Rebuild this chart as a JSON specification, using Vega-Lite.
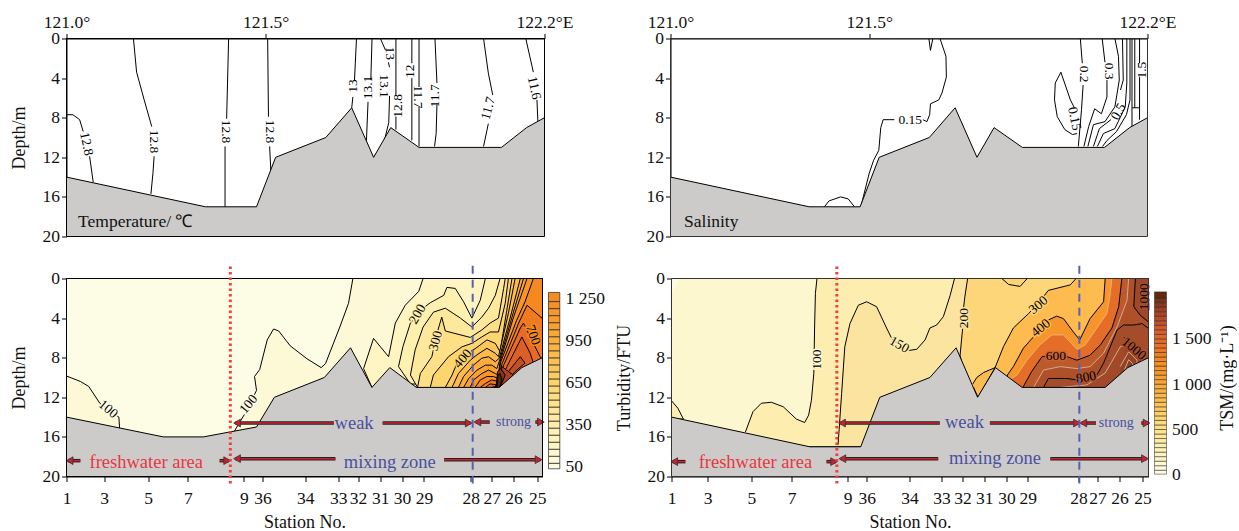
{"$schema":"https://vega.github.io/schema/vega-lite/v6.json","padding":{"left":9.5,"top":13.5,"right":0,"bottom":0},"autosize":{"type":"pad"},"background":"white",
"config":{"font":"Liberation Serif","view":{"stroke":null},"axis":{"grid":false,"domainColor":"#000","tickColor":"#000","labelColor":"#111","titleColor":"#111","labelFontSize":17.5,"titleFontSize":18,"titleFontWeight":"normal","labelOverlap":false,"labelFlush":false,"labelBound":false,"tickSize":5,"zindex":1}},
"datasets":{
"frame":[{"x":121,"y":0},{"x":122.2,"y":0},{"x":122.2,"y":20},{"x":121,"y":20},{"x":121,"y":0}],
"terrainTop":[{"x":121,"y":14},{"x":121.349,"y":17},{"x":121.477,"y":17},{"x":121.525,"y":12},{"x":121.651,"y":10},{"x":121.716,"y":7},{"x":121.771,"y":12},{"x":121.814,"y":9},{"x":121.885,"y":11},{"x":122.092,"y":11},{"x":122.155,"y":9},{"x":122.2,"y":8}],
"terrainBL":[{"x":121,"y":14},{"x":121.244,"y":16},{"x":121.345,"y":16},{"x":121.479,"y":15},{"x":121.524,"y":12},{"x":121.65,"y":10},{"x":121.716,"y":7},{"x":121.77,"y":11},{"x":121.815,"y":9},{"x":121.882,"y":11},{"x":122.091,"y":11},{"x":122.148,"y":9},{"x":122.2,"y":8}],
"terrainBR":[{"x":121,"y":14},{"x":121.348,"y":17},{"x":121.476,"y":17},{"x":121.524,"y":12},{"x":121.65,"y":10},{"x":121.716,"y":7},{"x":121.77,"y":12},{"x":121.815,"y":9},{"x":121.882,"y":11},{"x":122.091,"y":11},{"x":122.148,"y":9},{"x":122.2,"y":8}],
"tempLines":[
{"c":"a1","x":121,"y":7.7},{"c":"a1","x":121.016,"y":7.7},{"c":"a1","x":121.033,"y":8.2},{"c":"a1","x":121.042,"y":9.4},
{"c":"a2","x":121.058,"y":11.9},{"c":"a2","x":121.067,"y":14.5},
{"c":"b1","x":121.168,"y":0},{"c":"b1","x":121.176,"y":3.4},{"c":"b1","x":121.195,"y":6.2},{"c":"b1","x":121.214,"y":8.9},
{"c":"b2","x":121.22,"y":11.9},{"c":"b2","x":121.217,"y":13.6},{"c":"b2","x":121.212,"y":15.7},
{"c":"c1","x":121.407,"y":0},{"c":"c1","x":121.402,"y":8.1},{"c":"c2","x":121.398,"y":10.9},{"c":"c2","x":121.398,"y":17},
{"c":"d1","x":121.505,"y":0},{"c":"d1","x":121.507,"y":7.9},{"c":"d2","x":121.51,"y":10.9},{"c":"d2","x":121.513,"y":13.4},
{"c":"e1","x":121.728,"y":0},{"c":"e1","x":121.723,"y":4.2},{"c":"e2","x":121.719,"y":5.9},{"c":"e2","x":121.716,"y":7},
{"c":"f1","x":121.767,"y":0},{"c":"f1","x":121.764,"y":4.2},{"c":"f2","x":121.757,"y":6.4},{"c":"f2","x":121.753,"y":10.3},
{"c":"g1","x":121.788,"y":0},{"c":"g1","x":121.801,"y":1.2},{"c":"g2","x":121.808,"y":2.4},{"c":"g2","x":121.811,"y":2.9},
{"c":"g3","x":121.811,"y":5.8},{"c":"g3","x":121.809,"y":8.5},{"c":"g3","x":121.798,"y":10.3},{"c":"g3","x":121.784,"y":11.4},{"c":"g3","x":121.771,"y":12},
{"c":"h1","x":121.827,"y":0},{"c":"h1","x":121.827,"y":5.7},{"c":"h2","x":121.827,"y":7.9},{"c":"h2","x":121.827,"y":9.2},
{"c":"i1","x":121.867,"y":0},{"c":"i1","x":121.867,"y":2.5},{"c":"i2","x":121.867,"y":4},{"c":"i2","x":121.867,"y":10.3},
{"c":"j1","x":121.885,"y":0},{"c":"j1","x":121.885,"y":4.9},{"c":"j2","x":121.885,"y":6.9},{"c":"j2","x":121.885,"y":10.9},
{"c":"k1","x":121.925,"y":0},{"c":"k1","x":121.93,"y":4.5},{"c":"k2","x":121.93,"y":6.7},{"c":"k2","x":121.928,"y":9.6},{"c":"k2","x":121.924,"y":10.9},
{"c":"l1","x":122.047,"y":0},{"c":"l1","x":122.059,"y":3.5},{"c":"l1","x":122.07,"y":5.7},{"c":"l2","x":122.059,"y":8.6},{"c":"l2","x":122.047,"y":10.9},
{"c":"m1","x":122.153,"y":0},{"c":"m1","x":122.172,"y":3.4},{"c":"m2","x":122.181,"y":6.2},{"c":"m2","x":122.184,"y":8.9}],
"tempLabels":[{"t":"12.8","x":121.05,"y":10.65,"r":"d78"},{"t":"12.8","x":121.219,"y":10.4,"r":"d90"},{"t":"12.8","x":121.4,"y":9.4,"r":"d90"},{"t":"12.8","x":121.51,"y":9.4,"r":"d90"},{"t":"13","x":121.719,"y":4.8,"r":"u90"},{"t":"13.1","x":121.758,"y":4.95,"r":"u90"},{"t":"13","x":121.813,"y":1.5,"r":"d90"},{"t":"13.1","x":121.796,"y":4.8,"r":"d90"},{"t":"12.8","x":121.832,"y":6.8,"r":"u90"},{"t":"12","x":121.863,"y":3.3,"r":"u90"},{"t":"11.7","x":121.882,"y":5.9,"r":"d90"},{"t":"11.7","x":121.926,"y":5.8,"r":"u90"},{"t":"11.7","x":122.059,"y":7.05,"r":"u75"},{"t":"11.6","x":122.174,"y":5,"r":"d78"}],
"salLines":[
{"c":"a1","x":121.678,"y":0},{"c":"a1","x":121.693,"y":1.8},{"c":"a1","x":121.694,"y":3.9},{"c":"a1","x":121.683,"y":5.5},{"c":"a1","x":121.675,"y":6.2},{"c":"a1","x":121.654,"y":6.6},{"c":"a1","x":121.652,"y":7.7},{"c":"a1","x":121.645,"y":8.4},{"c":"a1","x":121.635,"y":8.2},
{"c":"a2","x":121.563,"y":8.2},{"c":"a2","x":121.535,"y":8.2},{"c":"a2","x":121.529,"y":9},{"c":"a2","x":121.524,"y":11.3},{"c":"a2","x":121.511,"y":12.3},{"c":"a2","x":121.5,"y":13.6},{"c":"a2","x":121.485,"y":16},{"c":"a2","x":121.479,"y":17},
{"c":"w","x":121.65,"y":0},{"c":"w","x":121.654,"y":1.2},{"c":"w","x":121.66,"y":0},
{"c":"dome","x":121.387,"y":17},{"c":"dome","x":121.399,"y":16.4},{"c":"dome","x":121.428,"y":16},{"c":"dome","x":121.447,"y":16.2},{"c":"dome","x":121.463,"y":17},
{"c":"loop","x":121.982,"y":3.4},{"c":"loop","x":121.968,"y":4.5},{"c":"loop","x":121.966,"y":6.2},{"c":"loop","x":121.973,"y":7.9},{"c":"loop","x":121.992,"y":9.2},{"c":"loop","x":122.011,"y":9.7},{"c":"loop","x":122.023,"y":9.6},
{"c":"loop2","x":122.016,"y":7},{"c":"loop2","x":122.006,"y":6.2},{"c":"loop2","x":121.982,"y":3.4},
{"c":"s2a","x":122.031,"y":0},{"c":"s2a","x":122.036,"y":2.5},{"c":"s2b","x":122.038,"y":4.7},{"c":"s2b","x":122.034,"y":7.2},{"c":"s2b","x":122.026,"y":10.9},
{"c":"s3a","x":122.086,"y":0},{"c":"s3a","x":122.093,"y":2.4},{"c":"s3b","x":122.098,"y":4.2},{"c":"s3b","x":122.098,"y":5.9},{"c":"s3b","x":122.084,"y":7.6},{"c":"s3b","x":122.067,"y":7.1},{"c":"s3b","x":122.052,"y":8.9},{"c":"s3b","x":122.04,"y":10.9},
{"c":"s4","x":122.118,"y":0},{"c":"s4","x":122.127,"y":1.8},{"c":"s4","x":122.129,"y":4.2},{"c":"s4","x":122.118,"y":6.9},{"c":"s4","x":122.093,"y":8.4},{"c":"s4","x":122.064,"y":8.7},{"c":"s4","x":122.05,"y":10.9},
{"c":"s5a","x":122.137,"y":0},{"c":"s5a","x":122.139,"y":4.2},{"c":"s5a","x":122.132,"y":5.2},{"c":"s5b","x":122.108,"y":8.2},{"c":"s5b","x":122.079,"y":9.1},{"c":"s5b","x":122.064,"y":10.9},
{"c":"s6","x":122.148,"y":0},{"c":"s6","x":122.148,"y":4.5},{"c":"s6","x":122.144,"y":6.9},{"c":"s6","x":122.118,"y":9.1},{"c":"s6","x":122.089,"y":9.6},{"c":"s6","x":122.074,"y":10.9},
{"c":"s7","x":122.156,"y":0},{"c":"s7","x":122.156,"y":6.2},{"c":"s7","x":122.147,"y":7.7},{"c":"s7","x":122.122,"y":9.4},{"c":"s7","x":122.098,"y":10.3},{"c":"s7","x":122.087,"y":10.9},
{"c":"s8","x":122.161,"y":0},{"c":"s8","x":122.161,"y":8.9},
{"c":"s9","x":122.161,"y":7},{"c":"s9","x":122.18,"y":7},
{"c":"s10","x":122.168,"y":0},{"c":"s10","x":122.168,"y":7},
{"c":"s11a","x":122.18,"y":0},{"c":"s11a","x":122.18,"y":2.5},{"c":"s11b","x":122.18,"y":3.9},{"c":"s11b","x":122.18,"y":8.2}],
"salLabels":[{"t":"0.15","x":121.603,"y":8.2,"r":"h0"},{"t":"0.15","x":122.016,"y":8.1,"r":"d78"},{"t":"0.2","x":122.04,"y":3.6,"r":"d90"},{"t":"0.3","x":122.103,"y":3.3,"r":"d90"},{"t":"0.5","x":122.127,"y":7.4,"r":"u60"},{"t":"1.5","x":122.185,"y":3.2,"r":"u90"}],
"turb":[
{"lev":50,"x":121,"y":0},{"lev":50,"x":122.2,"y":0},{"lev":50,"x":122.2,"y":20},{"lev":50,"x":121,"y":20},
{"lev":101,"x":121,"y":9.85},{"lev":101,"x":121.035,"y":10.4},{"lev":101,"x":121.056,"y":10.9},{"lev":101,"x":121.084,"y":12.6},{"lev":101,"x":121.132,"y":14},{"lev":101,"x":121.134,"y":15.2},{"lev":101,"x":121,"y":15.2},
{"lev":100,"x":121.422,"y":15.5},{"lev":100,"x":121.455,"y":13.3},{"lev":100,"x":121.479,"y":11.3},{"lev":100,"x":121.474,"y":9.9},{"lev":100,"x":121.487,"y":9.2},{"lev":100,"x":121.506,"y":6.2},{"lev":100,"x":121.522,"y":5.1},{"lev":100,"x":121.535,"y":5.3},{"lev":100,"x":121.564,"y":6.8},{"lev":100,"x":121.606,"y":8.1},{"lev":100,"x":121.642,"y":9},{"lev":100,"x":121.653,"y":8.6},{"lev":100,"x":121.69,"y":4.8},{"lev":100,"x":121.711,"y":2.5},{"lev":100,"x":121.722,"y":0},{"lev":100,"x":122.2,"y":0},{"lev":100,"x":122.2,"y":16},{"lev":100,"x":121.422,"y":16},
{"lev":150,"x":121.899,"y":0},{"lev":150,"x":121.888,"y":1.3},{"lev":150,"x":121.854,"y":2.7},{"lev":150,"x":121.829,"y":4.5},{"lev":150,"x":121.812,"y":7.9},{"lev":150,"x":121.774,"y":6.05},{"lev":150,"x":121.749,"y":9.1},{"lev":150,"x":121.77,"y":11},{"lev":150,"x":122.2,"y":11},{"lev":150,"x":122.2,"y":0},
{"lev":200,"x":122.056,"y":0},{"lev":200,"x":122.043,"y":2.2},{"lev":200,"x":122.022,"y":4},{"lev":200,"x":122.001,"y":2.35},{"lev":200,"x":121.98,"y":1},{"lev":200,"x":121.959,"y":0.9},{"lev":200,"x":121.951,"y":1.7},{"lev":200,"x":121.917,"y":2.45},{"lev":200,"x":121.904,"y":2.85},{"lev":200,"x":121.867,"y":4.5},{"lev":200,"x":121.848,"y":6.9},{"lev":200,"x":121.837,"y":8.9},{"lev":200,"x":121.867,"y":10.65},{"lev":200,"x":122.2,"y":11},{"lev":200,"x":122.2,"y":0},
{"lev":250,"x":122.093,"y":0},{"lev":250,"x":122.081,"y":1.7},{"lev":250,"x":122.064,"y":3},{"lev":250,"x":122.047,"y":3.9},{"lev":250,"x":122.022,"y":4.9},{"lev":250,"x":121.993,"y":4},{"lev":250,"x":121.955,"y":3},{"lev":250,"x":121.925,"y":3.4},{"lev":250,"x":121.899,"y":4.9},{"lev":250,"x":121.879,"y":7.2},{"lev":250,"x":121.867,"y":9.75},{"lev":250,"x":121.885,"y":11},{"lev":250,"x":122.2,"y":11},{"lev":250,"x":122.2,"y":0},
{"lev":300,"x":121.885,"y":11},{"lev":300,"x":121.892,"y":9.6},{"lev":300,"x":121.921,"y":7.9},{"lev":300,"x":121.935,"y":5.4},{"lev":300,"x":121.946,"y":3.9},{"lev":300,"x":121.955,"y":5.3},{"lev":300,"x":122.018,"y":5.95},{"lev":300,"x":122.047,"y":5.2},{"lev":300,"x":122.068,"y":4.5},{"lev":300,"x":122.089,"y":4},{"lev":300,"x":122.102,"y":1},{"lev":300,"x":122.106,"y":0},{"lev":300,"x":122.2,"y":0},{"lev":300,"x":122.2,"y":11},
{"lev":350,"x":121.917,"y":11},{"lev":350,"x":121.925,"y":9.75},{"lev":350,"x":121.963,"y":7.9},{"lev":350,"x":121.997,"y":6.9},{"lev":350,"x":122.022,"y":6.55},{"lev":350,"x":122.047,"y":5.9},{"lev":350,"x":122.068,"y":5.4},{"lev":350,"x":122.089,"y":5.4},{"lev":350,"x":122.106,"y":2.5},{"lev":350,"x":122.114,"y":0},{"lev":350,"x":122.2,"y":0},{"lev":350,"x":122.2,"y":11},
{"lev":400,"x":121.955,"y":11},{"lev":400,"x":121.972,"y":9.75},{"lev":400,"x":121.984,"y":8.6},{"lev":400,"x":122.018,"y":7.4},{"lev":400,"x":122.035,"y":6.95},{"lev":400,"x":122.06,"y":6.2},{"lev":400,"x":122.081,"y":6.55},{"lev":400,"x":122.093,"y":7.4},{"lev":400,"x":122.11,"y":3.2},{"lev":400,"x":122.123,"y":0},{"lev":400,"x":122.2,"y":0},{"lev":400,"x":122.2,"y":11},
{"lev":450,"x":121.972,"y":11},{"lev":450,"x":121.988,"y":9.6},{"lev":450,"x":122.018,"y":8.25},{"lev":450,"x":122.035,"y":7.7},{"lev":450,"x":122.06,"y":7.05},{"lev":450,"x":122.081,"y":7.55},{"lev":450,"x":122.089,"y":7.9},{"lev":450,"x":122.114,"y":3.5},{"lev":450,"x":122.131,"y":0},{"lev":450,"x":122.2,"y":0},{"lev":450,"x":122.2,"y":11},
{"lev":500,"x":121.988,"y":11},{"lev":500,"x":122.001,"y":9.9},{"lev":500,"x":122.026,"y":8.75},{"lev":500,"x":122.047,"y":8.05},{"lev":500,"x":122.064,"y":7.9},{"lev":500,"x":122.081,"y":8.4},{"lev":500,"x":122.091,"y":8.05},{"lev":500,"x":122.119,"y":3.9},{"lev":500,"x":122.144,"y":0},{"lev":500,"x":122.2,"y":0},{"lev":500,"x":122.2,"y":11},
{"lev":550,"x":122.001,"y":11},{"lev":550,"x":122.014,"y":10.1},{"lev":550,"x":122.035,"y":9.25},{"lev":550,"x":122.056,"y":8.75},{"lev":550,"x":122.072,"y":8.75},{"lev":550,"x":122.085,"y":9.1},{"lev":550,"x":122.092,"y":8.25},{"lev":550,"x":122.123,"y":3.9},{"lev":550,"x":122.152,"y":0},{"lev":550,"x":122.2,"y":0},{"lev":550,"x":122.2,"y":11},
{"lev":600,"x":122.018,"y":11},{"lev":600,"x":122.026,"y":10.25},{"lev":600,"x":122.047,"y":9.6},{"lev":600,"x":122.064,"y":9.25},{"lev":600,"x":122.081,"y":9.6},{"lev":600,"x":122.089,"y":9.75},{"lev":600,"x":122.093,"y":8.4},{"lev":600,"x":122.127,"y":3.9},{"lev":600,"x":122.161,"y":0},{"lev":600,"x":122.2,"y":0},{"lev":600,"x":122.2,"y":11},
{"lev":650,"x":122.03,"y":11},{"lev":650,"x":122.043,"y":10.25},{"lev":650,"x":122.06,"y":9.9},{"lev":650,"x":122.077,"y":9.9},{"lev":650,"x":122.088,"y":10.1},{"lev":650,"x":122.095,"y":8.4},{"lev":650,"x":122.135,"y":4.2},{"lev":650,"x":122.156,"y":2.35},{"lev":650,"x":122.177,"y":0},{"lev":650,"x":122.2,"y":0},{"lev":650,"x":122.2,"y":11},
{"lev":700,"x":122.043,"y":11},{"lev":700,"x":122.056,"y":10.6},{"lev":700,"x":122.072,"y":10.25},{"lev":700,"x":122.088,"y":10.4},{"lev":700,"x":122.098,"y":8.6},{"lev":700,"x":122.14,"y":4.5},{"lev":700,"x":122.161,"y":2.7},{"lev":700,"x":122.2,"y":4.05},{"lev":700,"x":122.2,"y":11},
{"lev":750,"x":122.056,"y":11},{"lev":750,"x":122.068,"y":10.65},{"lev":750,"x":122.088,"y":10.75},{"lev":750,"x":122.102,"y":8.75},{"lev":750,"x":122.144,"y":5},{"lev":750,"x":122.152,"y":4.5},{"lev":750,"x":122.177,"y":6.55},{"lev":750,"x":122.194,"y":7.9},{"lev":750,"x":122.2,"y":8.2},{"lev":750,"x":122.2,"y":11},
{"lev":800,"x":122.072,"y":11},{"lev":800,"x":122.085,"y":10.85},{"lev":800,"x":122.106,"y":9.25},{"lev":800,"x":122.148,"y":5.9},{"lev":800,"x":122.169,"y":7.55},{"lev":800,"x":122.177,"y":8.55},{"lev":800,"x":122.144,"y":9.4},{"lev":800,"x":122.11,"y":10.6},{"lev":800,"x":122.093,"y":11},
{"lev":900,"x":122.081,"y":11},{"lev":900,"x":122.089,"y":10.6},{"lev":900,"x":122.11,"y":9.6},{"lev":900,"x":122.144,"y":7.9},{"lev":900,"x":122.156,"y":8.55},{"lev":900,"x":122.131,"y":9.4},{"lev":900,"x":122.098,"y":11},
{"lev":1000,"x":122.082,"y":11},{"lev":1000,"x":122.088,"y":9.75},{"lev":1000,"x":122.098,"y":8.9},{"lev":1000,"x":122.114,"y":9.4},{"lev":1000,"x":122.127,"y":9.75},{"lev":1000,"x":122.102,"y":11},
{"lev":1100,"x":122.083,"y":11},{"lev":1100,"x":122.087,"y":9.4},{"lev":1100,"x":122.095,"y":9.1},{"lev":1100,"x":122.106,"y":9.75},{"lev":1100,"x":122.093,"y":11},
{"lev":1250,"x":122.085,"y":11},{"lev":1250,"x":122.088,"y":9.75},{"lev":1250,"x":122.093,"y":9.6},{"lev":1250,"x":122.098,"y":10.25},{"lev":1250,"x":122.092,"y":11}],
"turbLabels":[{"t":"100","x":121.105,"y":13.2,"r":"d40","lev":50},{"t":"100","x":121.459,"y":12.7,"r":"u50","lev":50},{"t":"200","x":121.885,"y":3.6,"r":"u60","lev":200},{"t":"300","x":121.931,"y":6.3,"r":"u75","lev":250},{"t":"400","x":121.999,"y":8.1,"r":"u50","lev":350},{"t":"700","x":122.176,"y":5.7,"r":"d70","lev":650}],
"tsm":[
{"lev":75,"x":121,"y":0},{"lev":75,"x":122.2,"y":0},{"lev":75,"x":122.2,"y":20},{"lev":75,"x":121,"y":20},
{"lev":30,"x":121,"y":1.5},{"lev":30,"x":121.024,"y":0},{"lev":30,"x":121,"y":0},
{"lev":101,"x":121,"y":12.35},{"lev":101,"x":121.016,"y":13.1},{"lev":101,"x":121.03,"y":14.2},{"lev":101,"x":121,"y":14.2},
{"lev":100,"x":121.186,"y":15.5},{"lev":100,"x":121.205,"y":13.45},{"lev":100,"x":121.226,"y":12.6},{"lev":100,"x":121.251,"y":12.5},{"lev":100,"x":121.281,"y":12.95},{"lev":100,"x":121.314,"y":14.2},{"lev":100,"x":121.335,"y":14.55},{"lev":100,"x":121.345,"y":13.8},{"lev":100,"x":121.352,"y":12.3},{"lev":100,"x":121.358,"y":9.6},{"lev":100,"x":121.36,"y":4.9},{"lev":100,"x":121.362,"y":1.5},{"lev":100,"x":121.366,"y":0},{"lev":100,"x":122.2,"y":0},{"lev":100,"x":122.2,"y":17},{"lev":100,"x":121.186,"y":17},
{"lev":150,"x":121.419,"y":16.8},{"lev":150,"x":121.428,"y":11.6},{"lev":150,"x":121.436,"y":6.9},{"lev":150,"x":121.449,"y":4.55},{"lev":150,"x":121.47,"y":2.7},{"lev":150,"x":121.491,"y":2.35},{"lev":150,"x":121.516,"y":2.85},{"lev":150,"x":121.541,"y":5},{"lev":150,"x":121.554,"y":6.05},{"lev":150,"x":121.591,"y":7.3},{"lev":150,"x":121.617,"y":7.15},{"lev":150,"x":121.638,"y":6.2},{"lev":150,"x":121.65,"y":5},{"lev":150,"x":121.667,"y":4.7},{"lev":150,"x":121.684,"y":3.85},{"lev":150,"x":121.701,"y":1.7},{"lev":150,"x":121.712,"y":0},{"lev":150,"x":122.2,"y":0},{"lev":150,"x":122.2,"y":17},{"lev":150,"x":121.419,"y":17},
{"lev":200,"x":121.745,"y":0},{"lev":200,"x":121.738,"y":1.85},{"lev":200,"x":121.733,"y":3.55},{"lev":200,"x":121.732,"y":5.2},{"lev":200,"x":121.726,"y":7.75},{"lev":200,"x":121.734,"y":9.25},{"lev":200,"x":121.734,"y":12},{"lev":200,"x":122.2,"y":12},{"lev":200,"x":122.2,"y":0},
{"lev":210,"x":121.831,"y":0},{"lev":210,"x":121.848,"y":0.6},{"lev":210,"x":121.877,"y":0.8},{"lev":210,"x":121.895,"y":0},
{"lev":300,"x":122.018,"y":0},{"lev":300,"x":122.003,"y":0.65},{"lev":300,"x":121.948,"y":1.2},{"lev":300,"x":121.923,"y":2.5},{"lev":300,"x":121.898,"y":3.55},{"lev":300,"x":121.86,"y":5},{"lev":300,"x":121.835,"y":6.9},{"lev":300,"x":121.814,"y":9},{"lev":300,"x":121.814,"y":11},{"lev":300,"x":122.2,"y":11},{"lev":300,"x":122.2,"y":0},
{"lev":301,"x":121.758,"y":10.65},{"lev":301,"x":121.768,"y":10},{"lev":301,"x":121.785,"y":9.5},{"lev":301,"x":121.814,"y":9},{"lev":301,"x":121.771,"y":12},{"lev":301,"x":121.76,"y":11},
{"lev":400,"x":122.091,"y":0},{"lev":400,"x":122.087,"y":2.35},{"lev":400,"x":122.053,"y":4.05},{"lev":400,"x":122.027,"y":6.2},{"lev":400,"x":122.011,"y":5.4},{"lev":400,"x":121.986,"y":4.05},{"lev":400,"x":121.969,"y":3.8},{"lev":400,"x":121.948,"y":4.2},{"lev":400,"x":121.915,"y":5.7},{"lev":400,"x":121.885,"y":7.05},{"lev":400,"x":121.86,"y":8.9},{"lev":400,"x":121.845,"y":9.75},{"lev":400,"x":121.845,"y":11},{"lev":400,"x":122.2,"y":11},{"lev":400,"x":122.2,"y":0},
{"lev":500,"x":121.856,"y":10.1},{"lev":500,"x":121.869,"y":9.75},{"lev":500,"x":121.894,"y":8.25},{"lev":500,"x":121.927,"y":6.7},{"lev":500,"x":121.957,"y":5.7},{"lev":500,"x":121.986,"y":5.7},{"lev":500,"x":122.02,"y":7.15},{"lev":500,"x":122.041,"y":6.7},{"lev":500,"x":122.07,"y":5},{"lev":500,"x":122.095,"y":3.55},{"lev":500,"x":122.102,"y":2},{"lev":500,"x":122.108,"y":0},{"lev":500,"x":122.2,"y":0},{"lev":500,"x":122.2,"y":11},{"lev":500,"x":121.856,"y":11},
{"lev":600,"x":121.884,"y":11},{"lev":600,"x":121.906,"y":9.4},{"lev":600,"x":121.932,"y":7.9},{"lev":600,"x":121.961,"y":7.75},{"lev":600,"x":121.995,"y":7.9},{"lev":600,"x":122.02,"y":8.25},{"lev":600,"x":122.053,"y":7.75},{"lev":600,"x":122.079,"y":6.7},{"lev":600,"x":122.108,"y":5},{"lev":600,"x":122.125,"y":2.85},{"lev":600,"x":122.133,"y":0},{"lev":600,"x":122.2,"y":0},{"lev":600,"x":122.2,"y":11},
{"lev":700,"x":121.911,"y":11},{"lev":700,"x":121.936,"y":9.25},{"lev":700,"x":121.978,"y":8.9},{"lev":700,"x":122.02,"y":9.1},{"lev":700,"x":122.053,"y":8.9},{"lev":700,"x":122.087,"y":7.55},{"lev":700,"x":122.121,"y":4.9},{"lev":700,"x":122.146,"y":2.2},{"lev":700,"x":122.15,"y":0},{"lev":700,"x":122.2,"y":0},{"lev":700,"x":122.2,"y":11},
{"lev":800,"x":121.936,"y":11},{"lev":800,"x":121.948,"y":10.1},{"lev":800,"x":121.995,"y":10.1},{"lev":800,"x":122.02,"y":10.25},{"lev":800,"x":122.07,"y":9.75},{"lev":800,"x":122.087,"y":8.55},{"lev":800,"x":122.121,"y":5.2},{"lev":800,"x":122.137,"y":4.7},{"lev":800,"x":122.163,"y":4.7},{"lev":800,"x":122.184,"y":4.55},{"lev":800,"x":122.2,"y":5.05},{"lev":800,"x":122.2,"y":11},
{"lev":900,"x":121.978,"y":11},{"lev":900,"x":122.045,"y":10.75},{"lev":900,"x":122.091,"y":9.55},{"lev":900,"x":122.129,"y":6.9},{"lev":900,"x":122.15,"y":6.6},{"lev":900,"x":122.179,"y":8},{"lev":900,"x":122.19,"y":8.3},{"lev":900,"x":122.19,"y":11},
{"lev":950,"x":122.167,"y":0},{"lev":950,"x":122.163,"y":2.85},{"lev":950,"x":122.179,"y":3.7},{"lev":950,"x":122.2,"y":4.4},{"lev":950,"x":122.2,"y":0},
{"lev":1000,"x":122.139,"y":5.95},{"lev":1000,"x":122.154,"y":6.55},{"lev":1000,"x":122.179,"y":7.9},{"lev":1000,"x":122.189,"y":8.25},{"lev":1000,"x":122.189,"y":11},{"lev":1000,"x":122.139,"y":11},
{"lev":1100,"x":122.129,"y":8.9},{"lev":1100,"x":122.15,"y":7.4},{"lev":1100,"x":122.171,"y":8.25},{"lev":1100,"x":122.171,"y":11},{"lev":1100,"x":122.129,"y":11},
{"lev":1200,"x":122.14,"y":9.2},{"lev":1200,"x":122.15,"y":8.2},{"lev":1200,"x":122.16,"y":8.6},{"lev":1200,"x":122.16,"y":11},{"lev":1200,"x":122.14,"y":11}],
"tsmLabels":[{"t":"100","x":121.366,"y":8.2,"r":"u90","lev":75},{"t":"150","x":121.573,"y":6.7,"r":"d30","lev":100},{"t":"200","x":121.737,"y":4,"r":"u90","lev":150},{"t":"300","x":121.923,"y":2.7,"r":"u40","lev":200},{"t":"400","x":121.929,"y":5,"r":"u40","lev":300},{"t":"600","x":121.967,"y":7.8,"r":"h0","lev":500},{"t":"800","x":122.043,"y":10,"r":"u10","lev":700},{"t":"1000","x":122.163,"y":7.1,"r":"d40","lev":800},{"t":"1000","x":122.188,"y":1.85,"r":"u90","lev":800}],
"arrowsL":[{"x":121.426,"x2":121.674,"y":14.6},{"x":121.797,"x2":122.018,"y":14.6},{"x":122.032,"x2":122.067,"y":14.5},{"x":122.182,"x2":122.2,"y":14.5},{"x":121.426,"x2":121.678,"y":18.2},{"x":121.952,"x2":122.194,"y":18.3},{"x":121.004,"x2":121.035,"y":18.4},{"x":121.386,"x2":121.409,"y":18.4}],
"headsL":[{"x":121.43,"y":14.6,"d":"l"},{"x":122.014,"y":14.6,"d":"r"},{"x":122.036,"y":14.5,"d":"l"},{"x":122.196,"y":14.5,"d":"r"},{"x":121.43,"y":18.2,"d":"l"},{"x":122.19,"y":18.3,"d":"r"},{"x":121.008,"y":18.4,"d":"l"},{"x":121.405,"y":18.4,"d":"r"}],
"arrowsR":[{"x":121.425,"x2":121.675,"y":14.6},{"x":121.801,"x2":122.024,"y":14.6},{"x":122.032,"x2":122.068,"y":14.6},{"x":122.182,"x2":122.199,"y":14.6},{"x":121.426,"x2":121.671,"y":18.2},{"x":121.953,"x2":122.195,"y":18.2},{"x":121.003,"x2":121.035,"y":18.5},{"x":121.39,"x2":121.413,"y":18.5}],
"headsR":[{"x":121.429,"y":14.6,"d":"l"},{"x":122.02,"y":14.6,"d":"r"},{"x":122.036,"y":14.6,"d":"l"},{"x":122.195,"y":14.6,"d":"r"},{"x":121.43,"y":18.2,"d":"l"},{"x":122.191,"y":18.2,"d":"r"},{"x":121.007,"y":18.5,"d":"l"},{"x":121.409,"y":18.5,"d":"r"}],
"notesL":[{"t":"freshwater area","x":121.201,"y":18.5},{"t":"weak","x":121.725,"y":14.6},{"t":"strong","x":122.127,"y":14.5},{"t":"mixing zone","x":121.815,"y":18.5}],
"notesR":[{"t":"freshwater area","x":121.211,"y":18.5},{"t":"weak","x":121.737,"y":14.5},{"t":"strong","x":122.119,"y":14.6},{"t":"mixing zone","x":121.814,"y":18.1}],
"barT":[{"a":36,"b":75,"c":50},{"a":75,"b":125,"c":100},{"a":125,"b":175,"c":150},{"a":175,"b":225,"c":200},{"a":225,"b":275,"c":250},{"a":275,"b":325,"c":300},{"a":325,"b":375,"c":350},{"a":375,"b":425,"c":400},{"a":425,"b":475,"c":450},{"a":475,"b":525,"c":500},{"a":525,"b":575,"c":550},{"a":575,"b":625,"c":600},{"a":625,"b":675,"c":650},{"a":675,"b":725,"c":700},{"a":725,"b":775,"c":750},{"a":775,"b":825,"c":800},{"a":825,"b":875,"c":850},{"a":875,"b":925,"c":900},{"a":925,"b":975,"c":950},{"a":975,"b":1025,"c":1000},{"a":1025,"b":1075,"c":1050},{"a":1075,"b":1125,"c":1100},{"a":1125,"b":1175,"c":1150},{"a":1175,"b":1225,"c":1200},{"a":1225,"b":1290,"c":1250}],
"barS":[{"a":7,"b":50,"c":25},{"a":50,"b":100,"c":75},{"a":100,"b":150,"c":125},{"a":150,"b":200,"c":175},{"a":200,"b":250,"c":225},{"a":250,"b":300,"c":275},{"a":300,"b":350,"c":325},{"a":350,"b":400,"c":375},{"a":400,"b":450,"c":425},{"a":450,"b":500,"c":475},{"a":500,"b":550,"c":525},{"a":550,"b":600,"c":575},{"a":600,"b":650,"c":625},{"a":650,"b":700,"c":675},{"a":700,"b":750,"c":725},{"a":750,"b":800,"c":775},{"a":800,"b":850,"c":825},{"a":850,"b":900,"c":875},{"a":900,"b":950,"c":925},{"a":950,"b":1000,"c":975},{"a":1000,"b":1050,"c":1025},{"a":1050,"b":1100,"c":1075},{"a":1100,"b":1150,"c":1125},{"a":1150,"b":1200,"c":1175},{"a":1200,"b":1250,"c":1225},{"a":1250,"b":1300,"c":1275},{"a":1300,"b":1350,"c":1325},{"a":1350,"b":1400,"c":1375},{"a":1400,"b":1450,"c":1425},{"a":1450,"b":1500,"c":1475},{"a":1500,"b":1550,"c":1525},{"a":1550,"b":1600,"c":1575},{"a":1600,"b":1650,"c":1625},{"a":1650,"b":1700,"c":1675},{"a":1700,"b":1750,"c":1725},{"a":1750,"b":1800,"c":1775},{"a":1800,"b":1850,"c":1825},{"a":1850,"b":1900,"c":1875},{"a":1900,"b":1950,"c":1925},{"a":1950,"b":2018,"c":1975}]
},
"spacing":19,
"vconcat":[
{"hconcat":[
{"width":478,"height":198,
"encoding":{"x":{"field":"x","type":"quantitative","scale":{"domain":[121,122.2],"nice":false,"zero":false},"axis":{"orient":"top","title":null,"values":[121,121.5,122.2],"labelExpr":"datum.value==122.2?'122.2°E':format(datum.value,'.1f')+'°'"}},"y":{"field":"y","type":"quantitative","scale":{"domain":[0,20],"reverse":true,"nice":false,"zero":false},"axis":{"title":"Depth/m","values":[0,4,8,12,16,20],"titlePadding":14}}},
"layer":[
{"data":{"name":"tempLines"},"mark":{"type":"line","stroke":"#000","strokeWidth":1},"encoding":{"detail":{"field":"c"},"order":{"value":null}}},
{"data":{"name":"terrainTop"},"mark":{"type":"area","fill":"#cccbc9","opacity":1,"line":{"stroke":"#000","strokeWidth":1}},"encoding":{"y2":{"datum":20}}},
{"data":{"name":"tempLabels"},"mark":{"type":"text","fontSize":13.5,"fill":"#000"},"encoding":{"text":{"field":"t"},"angle":{"field":"r","type":"nominal","legend":null,"scale":{"type":"ordinal","domain":["d90","d78","d70","d40","d30","h0","u10","u40","u50","u60","u75","u90"],"range":[90,78,70,40,30,0,350,320,310,300,285,270]}}}},
{"data":{"values":[{"t":"Temperature/ ℃","x":121.029,"y":18.5}]},"mark":{"type":"text","align":"left","fontSize":17.5,"fill":"#111"},"encoding":{"text":{"field":"t"}}},
{"data":{"name":"frame"},"mark":{"type":"line","stroke":"#000","strokeWidth":1},"encoding":{"order":{"value":null}}}
]},
{"width":477,"height":198,
"encoding":{"x":{"field":"x","type":"quantitative","scale":{"domain":[121,122.2],"nice":false,"zero":false},"axis":{"orient":"top","title":null,"values":[121,121.5,122.2],"labelExpr":"datum.value==122.2?'122.2°E':format(datum.value,'.1f')+'°'"}},"y":{"field":"y","type":"quantitative","scale":{"domain":[0,20],"reverse":true,"nice":false,"zero":false},"axis":{"title":null,"values":[0,4,8,12,16,20]}}},
"layer":[
{"data":{"name":"salLines"},"mark":{"type":"line","stroke":"#000","strokeWidth":1},"encoding":{"detail":{"field":"c"},"order":{"value":null}}},
{"data":{"name":"terrainTop"},"mark":{"type":"area","fill":"#cccbc9","opacity":1,"line":{"stroke":"#000","strokeWidth":1}},"encoding":{"y2":{"datum":20}}},
{"data":{"name":"salLabels"},"mark":{"type":"text","fontSize":13.5,"fill":"#000"},"encoding":{"text":{"field":"t"},"angle":{"field":"r","type":"nominal","legend":null,"scale":{"type":"ordinal","domain":["d90","d78","d70","d40","d30","h0","u10","u40","u50","u60","u75","u90"],"range":[90,78,70,40,30,0,350,320,310,300,285,270]}}}},
{"data":{"values":[{"t":"Salinity","x":121.034,"y":18.5}]},"mark":{"type":"text","align":"left","fontSize":17.5,"fill":"#111"},"encoding":{"text":{"field":"t"}}},
{"data":{"name":"frame"},"mark":{"type":"line","stroke":"#333","strokeWidth":1},"encoding":{"order":{"value":null}}}
]}
],"spacing":126,"bounds":"flush"},
{"hconcat":[
{"width":476,"height":198,
"encoding":{"x":{"field":"x","type":"quantitative","scale":{"domain":[121,122.2],"nice":false,"zero":false},"axis":{"orient":"bottom","title":"Station No.","titlePadding":6,"labelPadding":8,"values":[121,121.095,121.206,121.306,121.447,121.494,121.602,121.685,121.735,121.791,121.846,121.901,122.019,122.072,122.127,122.187],"labelExpr":"['1','3','5','7','9','36','34','33','32','31','30','29','28','27','26','25'][indexof([121,121.095,121.206,121.306,121.447,121.494,121.602,121.685,121.735,121.791,121.846,121.901,122.019,122.072,122.127,122.187],datum.value)]"}},"y":{"field":"y","type":"quantitative","scale":{"domain":[0,20],"reverse":true,"nice":false,"zero":false},"axis":{"title":"Depth/m","values":[0,4,8,12,16,20],"titlePadding":14}}},
"layer":[
{"data":{"name":"turb"},"mark":{"type":"line","stroke":"#000","strokeWidth":1},"encoding":{"fill":{"field":"lev","type":"quantitative","legend":null,"scale":{"domain":[50,100,150,200,250,300,350,400,450,500,550,600,650,700,750,800,900,1000,1100,1250],"range":["#fdfce5","#fdf8d6","#fef5c2","#fef0ae","#fee89c","#fddf85","#fdd56e","#fdc85a","#fcbb4a","#fbae3c","#faa030","#f89527","#f58920","#ef7a22","#e76b26","#dc5f28","#c34f27","#a84223","#86351c","#55280f"]}},"order":{"value":null}}},
{"data":{"name":"terrainBL"},"mark":{"type":"area","fill":"#cccbc9","opacity":1,"line":{"stroke":"#000","strokeWidth":1}},"encoding":{"y2":{"datum":20}}},
{"data":{"name":"turbLabels"},"mark":{"type":"text","fontSize":13.5,"strokeWidth":3},"encoding":{"text":{"field":"t"},"stroke":{"field":"lev","type":"quantitative","legend":null,"scale":{"domain":[50,200,250,350,650],"range":["#fdfce5","#fef0ae","#fee89c","#fdd56e","#f58920"]}},"angle":{"field":"r","type":"nominal","legend":null,"scale":{"type":"ordinal","domain":["d90","d78","d70","d40","d30","h0","u10","u40","u50","u60","u75","u90"],"range":[90,78,70,40,30,0,350,320,310,300,285,270]}}}},
{"data":{"name":"turbLabels"},"mark":{"type":"text","fontSize":13.5,"fill":"#000"},"encoding":{"text":{"field":"t"},"angle":{"field":"r","type":"nominal","legend":null,"scale":{"type":"ordinal","domain":["d90","d78","d70","d40","d30","h0","u10","u40","u50","u60","u75","u90"],"range":[90,78,70,40,30,0,350,320,310,300,285,270]}}}},
{"data":{"name":"arrowsL"},"mark":{"type":"rule","stroke":"#222","strokeWidth":3.5},"encoding":{"x2":{"field":"x2"}}},
{"data":{"name":"arrowsL"},"mark":{"type":"rule","stroke":"#d0202f","strokeWidth":1.5},"encoding":{"x2":{"field":"x2"}}},
{"data":{"name":"headsL"},"mark":{"type":"point","filled":true,"fill":"#c8202f","stroke":"#333","strokeWidth":0.8,"size":60,"opacity":1},"encoding":{"shape":{"field":"d","type":"nominal","legend":null,"scale":{"domain":["l","r"],"range":["triangle-left","triangle-right"]}}}},
{"data":{"name":"notesL"},"mark":{"type":"text"},"encoding":{"text":{"field":"t"},"fill":{"field":"t","type":"nominal","legend":null,"scale":{"domain":["freshwater area","weak","strong","mixing zone"],"range":["#e8363f","#4a4fa0","#4a4fa0","#4a4fa0"]}},"size":{"field":"t","type":"nominal","legend":null,"scale":{"type":"ordinal","domain":["freshwater area","weak","strong","mixing zone"],"range":[18.5,18.5,14,18.5]}}}},
{"data":{"name":"frame"},"mark":{"type":"line","stroke":"#000","strokeWidth":1},"encoding":{"order":{"value":null}}},
{"data":{"values":[{"x":121.413,"y":-1.2,"y2":20.8}]},"mark":{"type":"rule","stroke":"#f04040","strokeWidth":3,"strokeDash":[2.5,3]},"encoding":{"y2":{"field":"y2"}}},
{"data":{"values":[{"x":122.024,"y":-1.3,"y2":20.7}]},"mark":{"type":"rule","stroke":"#5a5fb0","strokeWidth":2,"strokeDash":[8,6]},"encoding":{"y2":{"field":"y2"}}}
]},
{"width":116.5,"height":198,
"data":{"name":"barT"},
"mark":{"type":"rect","stroke":"#222","strokeWidth":0.7},
"encoding":{"x":{"datum":0,"type":"quantitative","scale":{"domain":[0,10.3],"nice":false,"zero":false},"axis":null},"x2":{"datum":1},"y":{"field":"a","type":"quantitative","scale":{"domain":[-19,1389],"nice":false,"zero":false},"axis":{"orient":"right","offset":-105,"title":null,"domain":false,"ticks":false,"labelPadding":5,"values":[50,350,650,950,1250],"labelExpr":"datum.value>=1000?floor(datum.value/1000)+' '+format(datum.value%1000,'03d'):datum.value"}},"y2":{"field":"b"},"fill":{"field":"c","type":"quantitative","legend":null,"scale":{"domain":[50,100,150,200,250,300,350,400,450,500,550,600,650,700,750,800,900,1000,1100,1250],"range":["#fdfce5","#fdf8d6","#fef5c2","#fef0ae","#fee89c","#fddf85","#fdd56e","#fdc85a","#fcbb4a","#fbae3c","#faa030","#f89527","#f58920","#ef7a22","#e76b26","#dc5f28","#c34f27","#a84223","#86351c","#55280f"]}}}},
{"width":477,"height":198,
"encoding":{"x":{"field":"x","type":"quantitative","scale":{"domain":[121,122.2],"nice":false,"zero":false},"axis":{"orient":"bottom","title":"Station No.","titlePadding":6,"labelPadding":8,"values":[121,121.091,121.201,121.302,121.443,121.491,121.599,121.679,121.732,121.787,121.843,121.896,122.024,122.072,122.127,122.185],"labelExpr":"['1','3','5','7','9','36','34','33','32','31','30','29','28','27','26','25'][indexof([121,121.091,121.201,121.302,121.443,121.491,121.599,121.679,121.732,121.787,121.843,121.896,122.024,122.072,122.127,122.185],datum.value)]"}},"y":{"field":"y","type":"quantitative","scale":{"domain":[0,20],"reverse":true,"nice":false,"zero":false},"axis":{"title":"Turbidity/FTU","values":[0,4,8,12,16,20],"titlePadding":14}}},
"layer":[
{"data":{"name":"tsm"},"mark":{"type":"line","strokeWidth":1},"encoding":{"fill":{"field":"lev","type":"quantitative","legend":null,"scale":{"domain":[0,30,75,100,150,200,300,400,500,600,700,800,900,1000,1500,2000],"range":["#fdf9dd","#fdfbe3","#fdf7cf","#fdeeb0","#fbe3a0","#fdd67a","#fdbb50","#f6952c","#e46e28","#bd5a2c","#ae512b","#a54d2b","#a04a2b","#9c4626","#6e3219","#3c1e0d"]}},"stroke":{"field":"lev","type":"ordinal","legend":null,"scale":{"domain":[30,75,100,101,150,200,210,300,301,400,500,600,700,800,900,950,1000,1100,1200],"range":["#fdf7cf","#000","#000","#000","#000","#000","#000","#000","#000","#000","#f2b070","#000","#d9a98c","#000","#d9a98c","#000","#000","#d9a98c","#d9a98c"]}},"order":{"value":null}}},
{"data":{"name":"terrainBR"},"mark":{"type":"area","fill":"#cccbc9","opacity":1,"line":{"stroke":"#000","strokeWidth":1}},"encoding":{"y2":{"datum":20}}},
{"data":{"name":"tsmLabels"},"mark":{"type":"text","fontSize":13.5,"strokeWidth":3},"encoding":{"text":{"field":"t"},"stroke":{"field":"lev","type":"quantitative","legend":null,"scale":{"domain":[75,100,150,200,300,500,700,800],"range":["#fdf7cf","#fdeeb0","#fbe3a0","#fdd67a","#fdbb50","#c86230","#ae512b","#a54d2b"]}},"angle":{"field":"r","type":"nominal","legend":null,"scale":{"type":"ordinal","domain":["d90","d78","d70","d40","d30","h0","u10","u40","u50","u60","u75","u90"],"range":[90,78,70,40,30,0,350,320,310,300,285,270]}}}},
{"data":{"name":"tsmLabels"},"mark":{"type":"text","fontSize":13.5,"fill":"#000"},"encoding":{"text":{"field":"t"},"angle":{"field":"r","type":"nominal","legend":null,"scale":{"type":"ordinal","domain":["d90","d78","d70","d40","d30","h0","u10","u40","u50","u60","u75","u90"],"range":[90,78,70,40,30,0,350,320,310,300,285,270]}}}},
{"data":{"name":"arrowsR"},"mark":{"type":"rule","stroke":"#222","strokeWidth":3.5},"encoding":{"x2":{"field":"x2"}}},
{"data":{"name":"arrowsR"},"mark":{"type":"rule","stroke":"#d0202f","strokeWidth":1.5},"encoding":{"x2":{"field":"x2"}}},
{"data":{"name":"headsR"},"mark":{"type":"point","filled":true,"fill":"#c8202f","stroke":"#333","strokeWidth":0.8,"size":60,"opacity":1},"encoding":{"shape":{"field":"d","type":"nominal","legend":null,"scale":{"domain":["l","r"],"range":["triangle-left","triangle-right"]}}}},
{"data":{"name":"notesR"},"mark":{"type":"text"},"encoding":{"text":{"field":"t"},"fill":{"field":"t","type":"nominal","legend":null,"scale":{"domain":["freshwater area","weak","strong","mixing zone"],"range":["#e8363f","#4a4fa0","#4a4fa0","#4a4fa0"]}},"size":{"field":"t","type":"nominal","legend":null,"scale":{"type":"ordinal","domain":["freshwater area","weak","strong","mixing zone"],"range":[18.5,18.5,14,18.5]}}}},
{"data":{"name":"frame"},"mark":{"type":"line","stroke":"#333","strokeWidth":1},"encoding":{"order":{"value":null}}},
{"data":{"values":[{"x":121.416,"y":-1.2,"y2":20.8}]},"mark":{"type":"rule","stroke":"#f04040","strokeWidth":3,"strokeDash":[2.5,3]},"encoding":{"y2":{"field":"y2"}}},
{"data":{"values":[{"x":122.026,"y":-1.3,"y2":20.7}]},"mark":{"type":"rule","stroke":"#5a5fb0","strokeWidth":2,"strokeDash":[8,6]},"encoding":{"y2":{"field":"y2"}}}
]},
{"width":12,"height":198,
"data":{"name":"barS"},
"mark":{"type":"rect","stroke":"#222","strokeWidth":0.5},
"encoding":{"x":{"datum":0,"type":"quantitative","scale":{"domain":[0,1],"nice":false,"zero":false},"axis":null},"x2":{"datum":1},"y":{"field":"a","type":"quantitative","scale":{"domain":[-19,2166],"nice":false,"zero":false},"axis":{"orient":"right","title":"TSM/(mg·L⁻¹)","titleAngle":270,"titleX":70,"titleY":99,"domain":false,"ticks":false,"labelPadding":5,"values":[0,500,1000,1500],"labelExpr":"datum.value>=1000?floor(datum.value/1000)+' '+format(datum.value%1000,'03d'):datum.value"}},"y2":{"field":"b"},"fill":{"field":"c","type":"quantitative","legend":null,"scale":{"domain":[0,30,75,100,150,200,300,400,500,600,700,800,900,1000,1500,2000],"range":["#fdf9dd","#fdfbe3","#fdf7cf","#fdeeb0","#fbe3a0","#fdd67a","#fdbb50","#f6952c","#e46e28","#bd5a2c","#ae512b","#a54d2b","#a04a2b","#9c4626","#6e3219","#3c1e0d"]}}}}
],"spacing":6,"bounds":"flush"}
]}
